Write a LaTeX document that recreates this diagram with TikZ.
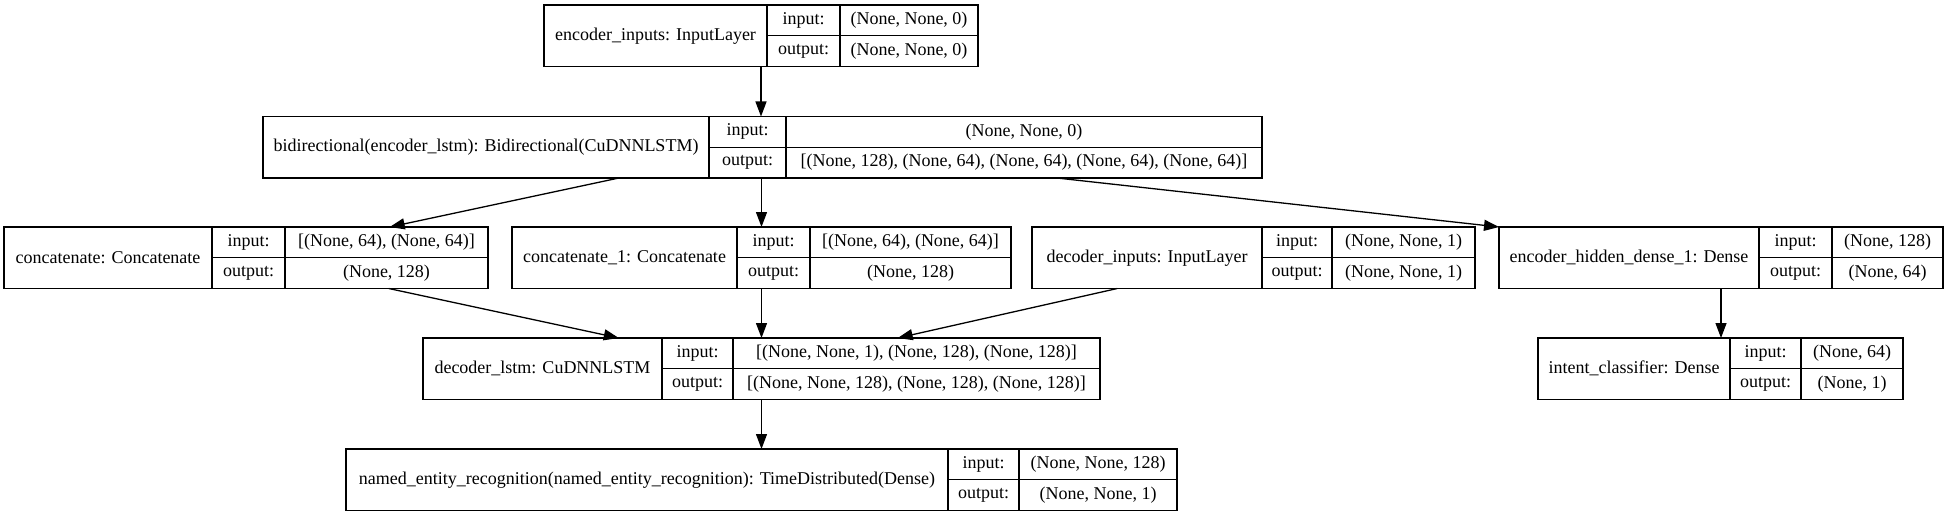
\documentclass[tikz,border=0pt]{standalone}
\usepackage{fontspec}
\setmainfont{Liberation Serif}
\usetikzlibrary{arrows.meta}
\tikzset{
 kbox/.style={draw=black, line width=1.4pt, inner sep=0pt, outer sep=0pt, rectangle},
 kline/.style={draw=black, line width=1.4pt},
 ktext/.style={font=\fontsize{18}{21}\selectfont, inner sep=0pt, text=black},
 karrow/.style={draw=black, line width=1.3pt, -{Triangle[length=15pt,width=11pt]}},
}
% #1 name, #2 x1, #3 d1, #4 d2, #5 x2, #6 ytop, #7 label, #8 input, #9 output
\newcommand\kerasbox[9]{%
 \pgfmathsetmacro\kw{#5-#2}%
 \pgfmathsetmacro\kcx{(#2+#5)/2}%
 \pgfmathsetmacro\kcy{#6+30.75}%
 \pgfmathsetmacro\kyb{#6+61.5}%
 \node[kbox, minimum width=\kw pt, minimum height=61.5pt] (#1) at (\kcx,\kcy) {};
 \draw[kline] (#3,#6) -- (#3,\kyb);
 \draw[kline] (#4,#6) -- (#4,\kyb);
 \draw[kline] (#3,\kcy) -- (#5,\kcy);
 \node[ktext] (#1l) at ({(#2+#3)/2},\kcy) {#7};
 \node[ktext] (#1i) at ({(#3+#4)/2},{#6+15.4}) {input:};
 \node[ktext] (#1o) at ({(#3+#4)/2},{#6+46.1}) {output:};
 \node[ktext] (#1iv) at ({(#4+#5)/2},{#6+15.4}) {#8};
 \node[ktext] (#1ov) at ({(#4+#5)/2},{#6+46.1}) {#9};
}
\begin{document}
\begin{tikzpicture}[x=1pt,y=-1pt]
\useasboundingbox[fill=white] (0,0) rectangle (1949,516);
\kerasbox{enc}{544}{767}{840}{978}{5}{encoder\_inputs: InputLayer}{(None, None, 0)}{(None, None, 0)}
\kerasbox{bi}{263}{709}{786}{1262}{116.5}{bidirectional(encoder\_lstm): Bidirectional(CuDNNLSTM)}{(None, None, 0)}{[(None, 128), (None, 64), (None, 64), (None, 64), (None, 64)]}
\kerasbox{cat}{4}{212}{285}{488}{227}{concatenate: Concatenate}{[(None, 64), (None, 64)]}{(None, 128)}
\kerasbox{catb}{512}{737}{810}{1011}{227}{concatenate\_1: Concatenate}{[(None, 64), (None, 64)]}{(None, 128)}
\kerasbox{dec}{1032}{1262}{1332}{1475}{227}{decoder\_inputs: InputLayer}{(None, None, 1)}{(None, None, 1)}
\kerasbox{hid}{1499}{1759}{1832}{1943}{227}{encoder\_hidden\_dense\_1: Dense}{(None, 128)}{(None, 64)}
\kerasbox{lstm}{423}{662}{733}{1100}{338}{decoder\_lstm: CuDNNLSTM}{[(None, None, 1), (None, 128), (None, 128)]}{[(None, None, 128), (None, 128), (None, 128)]}
\kerasbox{intent}{1538}{1730}{1801}{1903}{338}{intent\_classifier: Dense}{(None, 64)}{(None, 1)}
\kerasbox{ner}{346}{948}{1019}{1177}{449}{named\_entity\_recognition(named\_entity\_recognition): TimeDistributed(Dense)}{(None, None, 128)}{(None, None, 1)}
% connectors
\draw[karrow] (enc.south) -- (enc.south |- bi.north);
\draw[karrow] (bi) -- (cat);
\draw[karrow] (bi.south -| catb.north) -- (catb.north);
\draw[karrow] ([xshift=794pt]bi.south west) -- (hid.north west);
\draw[karrow] (cat) -- (lstm);
\draw[karrow] (catb.south) -- (catb.south |- lstm.north);
\draw[karrow] (dec) -- (lstm);
\draw[karrow] (hid.south) -- (hid.south |- intent.north);
\draw[karrow] (lstm.south) -- (lstm.south |- ner.north);
\end{tikzpicture}
\end{document}
